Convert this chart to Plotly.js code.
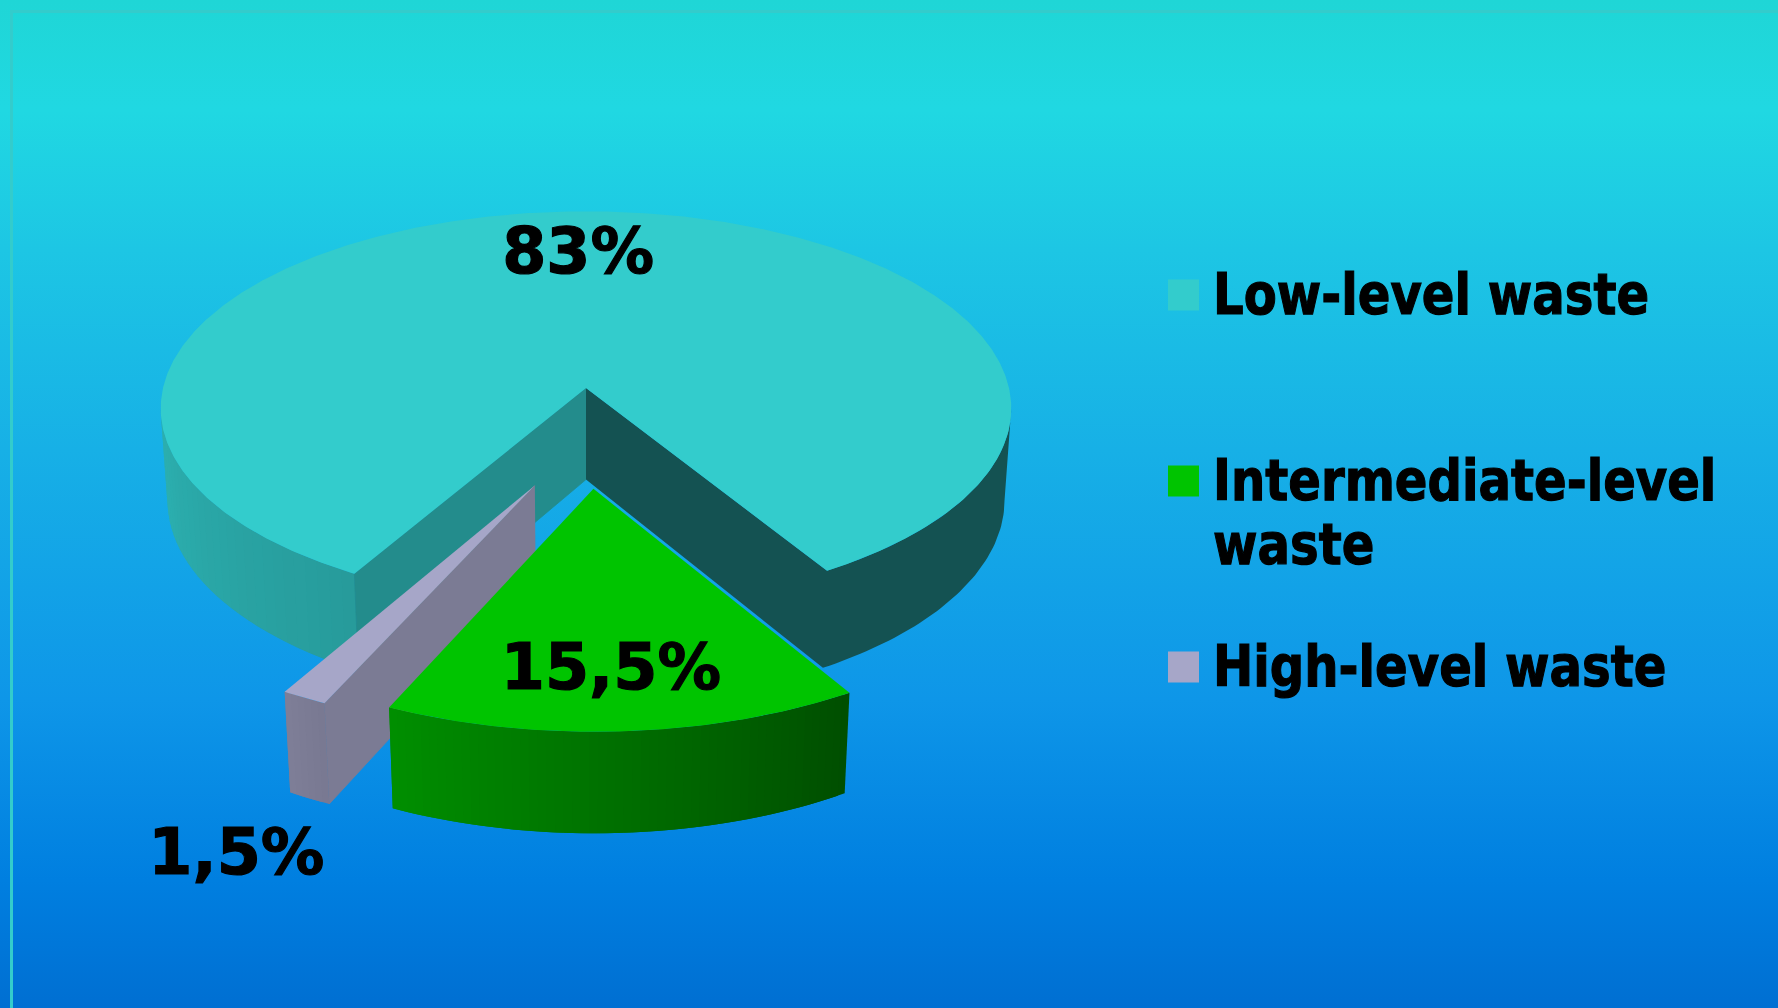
<!DOCTYPE html>
<html>
<head>
<meta charset="utf-8">
<script src="https://cdn.plot.ly/plotly-3.0.1.min.js"></script>
<style>
  html, body { margin: 0; padding: 0; width: 1778px; height: 1008px; overflow: hidden; }
  body {
    background: linear-gradient(to bottom,
      #1fd6d6 0px, #20d8e2 110px, #1dc6e4 250px,
      #17b0e6 450px, #0e96e8 700px, #007fe0 880px, #006fd2 1008px);
  }
  #chart { width: 1778px; height: 1008px; }
</style>
</head>
<body>
<div id="chart"></div>
<script>
// Waste categories and their share of the total volume, in percent.
const categories = ['Low-level waste', 'Intermediate-level waste', 'High-level waste'];
const shares = [83, 15.5, 1.5];
const legendLines = [['Low-level waste'], ['Intermediate-level', 'waste'], ['High-level waste']];
const topColors = [[51, 204, 204], [0, 196, 0], [166, 166, 200]];

// Offset of each slice in the pie's own plane, in units of the radius.
const sliceOffsetX = [0, 0.0167, -0.115];
const sliceOffsetY = [0, 0.491, 0.475];
const labelX = [578, 611, 236];
const labelY = [250, 666, 851];
const legendY = [295, 481, 667];

// Perspective view of the tilted disc.
const view = { cx: 586, cy: 388, a: 423, b: 195, k: 0.1034, depth: 93, shrink: 0.016 };
const startAngle = 209.9; // where the first slice begins, clockwise from the back
const rimWidest = [264, 456]; // directions of the disc's left and right extremes

function project(px, py, level) {
  const w = 1 - view.k * py + view.shrink * level;
  return [view.cx + view.a * px / w, view.cy + (view.b * py + view.depth * level) / w];
}
function rimPoint(i, deg, level) {
  const t = deg * Math.PI / 180;
  return project(sliceOffsetX[i] + Math.sin(t), sliceOffsetY[i] - Math.cos(t), level);
}
function centrePoint(i, level) {
  return project(sliceOffsetX[i], sliceOffsetY[i], level);
}
function rgb(c, f) {
  return 'rgb(' + c.map(v => Math.round(v * f)).join(',') + ')';
}
// Shading of the outer wall, by direction around the rim.
function wallShade(deg) {
  const d = ((deg % 360) + 360) % 360;
  if (d < 149) return 0.40;
  if (d < 210) return 0.40 + 0.36 * (d - 149) / 61;
  return Math.min(0.76 + 0.002 * (d - 210), 0.90);
}
function polygon(points, color, edge) {
  return {
    type: 'scatter', mode: 'lines', fill: 'toself', fillcolor: color,
    x: points.map(p => p[0]), y: points.map(p => p[1]),
    line: { color: color, width: edge || 0 }, hoverinfo: 'skip', showlegend: false
  };
}

// Slice extents, clockwise from startAngle.
const spans = [];
let cursor = startAngle;
shares.forEach(v => { spans.push([cursor, cursor + v * 3.6]); cursor += v * 3.6; });

// Outer wall as shaded bands; every band runs on under the next one so no seams show.
function wall(i, from, to, step) {
  const out = [];
  const n = Math.max(1, Math.ceil(Math.abs(to - from) / step));
  for (let s = 0; s < n; s++) {
    const d0 = from + (to - from) * s / n;
    const d1 = from + (to - from) * (s + 1) / n;
    const pts = [];
    const last = Math.min(s + 2, n);
    for (let q = s; q <= last; q++) pts.push(rimPoint(i, from + (to - from) * q / n, 0));
    for (let q = last; q >= s; q--) pts.push(rimPoint(i, from + (to - from) * q / n, 1));
    out.push(polygon(pts, rgb(topColors[i], wallShade((d0 + d1) / 2))));
  }
  return out;
}
// Evenly dark side: the cut face and the outer wall as one outline.
function darkSide(i, from, to, shade) {
  const pts = [centrePoint(i, 0)];
  const n = Math.ceil(Math.abs(to - from));
  for (let s = 0; s <= n; s++) pts.push(rimPoint(i, from + (to - from) * s / n, 0));
  for (let s = n; s >= 0; s--) pts.push(rimPoint(i, from + (to - from) * s / n, 1));
  pts.push(centrePoint(i, 1));
  return polygon(pts, rgb(topColors[i], shade));
}
function cutFace(i, deg, shade) {
  return polygon([centrePoint(i, 0), rimPoint(i, deg, 0), rimPoint(i, deg, 1), centrePoint(i, 1)],
    rgb(topColors[i], shade), 0.8);
}
function topFace(i) {
  const pts = [centrePoint(i, 0)];
  const [a0, a1] = spans[i];
  const n = Math.ceil((a1 - a0) * 2);
  for (let s = 0; s <= n; s++) pts.push(rimPoint(i, a0 + (a1 - a0) * s / n, 0));
  pts.push(centrePoint(i, 0));
  return polygon(pts, rgb(topColors[i], 1));
}

const traces = [];
// Low-level slice: visible walls on either side of the gap, then the two cut faces.
traces.push(...wall(0, spans[0][0], rimWidest[0], 2));
traces.push(cutFace(0, spans[0][0], 0.686));
traces.push(darkSide(0, spans[0][1], rimWidest[1], 0.40));
traces.push(topFace(0));
// High-level slice.
traces.push(cutFace(2, spans[2][0], 0.74));
traces.push(...wall(2, spans[2][0], spans[2][1], 1));
traces.push(topFace(2));
// Intermediate-level slice.
traces.push(...wall(1, spans[1][0], spans[1][1], 1));
traces.push(topFace(1));

// Legend swatches.
traces.push({
  type: 'scatter', mode: 'markers', x: categories.map(() => 1183.5), y: legendY,
  marker: { symbol: 'square', size: 31, color: topColors.map(c => rgb(c, 1)), line: { width: 0 } },
  text: categories, hoverinfo: 'text', showlegend: false
});

const labelFont = { family: 'DejaVu Sans, Verdana, sans-serif', size: 64.5, color: '#000', weight: 700 };
const legendFont = { family: 'DejaVu Sans, Verdana, sans-serif', size: 57, color: '#000', weight: 700 };
const annotations = [];
shares.forEach((v, i) => annotations.push({
  x: labelX[i], y: labelY[i], xref: 'x', yref: 'y', showarrow: false,
  xanchor: 'center', yanchor: 'middle', text: '<b>' + String(v).replace('.', ',') + '%</b>', font: labelFont
}));
legendLines.forEach((lines, i) => lines.forEach((line, j) => annotations.push({
  x: 1210.5, y: legendY[i] - 1 + j * 64, xref: 'x', yref: 'y', showarrow: false,
  xanchor: 'left', yanchor: 'middle', text: '<b>' + line + '</b>', font: legendFont
})));

const layout = {
  width: 1778, height: 1008, margin: { l: 0, r: 0, t: 0, b: 0 },
  paper_bgcolor: 'rgba(0,0,0,0)', plot_bgcolor: 'rgba(0,0,0,0)', showlegend: false,
  xaxis: { range: [0, 1778], visible: false, fixedrange: true },
  yaxis: { range: [1008, 0], visible: false, fixedrange: true },
  annotations: annotations,
  shapes: [
    { type: 'line', xref: 'x', yref: 'y', x0: 11.5, x1: 11.5, y0: 10, y1: 1008, line: { color: 'rgb(51,204,204)', width: 3 } },
    { type: 'line', xref: 'x', yref: 'y', x0: 10, x1: 1778, y0: 11.5, y1: 11.5, line: { color: 'rgb(51,204,204)', width: 3 } }
  ]
};

Plotly.newPlot('chart', traces, layout, { displayModeBar: false, staticPlot: true }).then(() => {
  // The lettering is set slightly narrower than the face's natural width, and a little heavier.
  document.querySelectorAll('#chart .annotation-text').forEach(el => {
    const isLabel = /%/.test(el.textContent);
    const sx = isLabel ? 0.985 : 0.845;
    const box = el.getBBox();
    const ox = isLabel ? box.x + box.width / 2 : box.x;
    el.setAttribute('transform', 'translate(' + ox + ',0) scale(' + sx + ',1) translate(' + (-ox) + ',0)');
    el.style.stroke = '#000';
    el.style.strokeWidth = '1.2px';
  });
});
</script>
</body>
</html>
